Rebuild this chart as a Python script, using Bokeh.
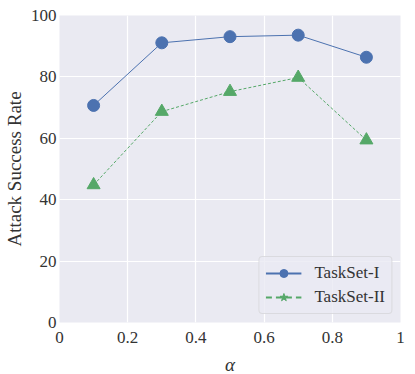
from bokeh.plotting import figure
from bokeh.models import ColumnDataSource, Legend, LegendItem, CDSView, IndexFilter
from bokeh.embed import file_html
from bokeh.resources import INLINE

alpha = [0.1, 0.3, 0.5, 0.7, 0.9]
taskset1 = [70.7, 91.1, 93.1, 93.6, 86.4]
taskset2 = [44.8, 68.7, 75.2, 79.8, 59.4]
x_ticks = [0, 0.2, 0.4, 0.6, 0.8, 1]
x_tick_labels = ["0", "0.2", "0.4", "0.6", "0.8", "1"]
y_ticks = [0, 20, 40, 60, 80, 100]

BLUE = "#4C72B0"
GREEN = "#55A868"
FONT = "Liberation Serif"
TXT = "#333333"

p = figure(frame_width=341, frame_height=307, x_range=(0, 1), y_range=(0, 100),
           output_backend="svg", toolbar_location=None,
           background_fill_color="#EAEAF2", border_fill_color="white",
           min_border_left=56, min_border_right=5, min_border_top=15, min_border_bottom=46)
p.outline_line_color = None

for ax in (p.xaxis, p.yaxis):
    ax.axis_line_color = None
    ax.major_tick_line_color = None
    ax.minor_tick_line_color = None
    ax.major_tick_out = 0
    ax.major_tick_in = 0
    ax.minor_tick_out = 0
    ax.minor_tick_in = 0
    ax.major_label_text_font = FONT
    ax.major_label_text_font_size = "17px"
    ax.major_label_text_color = TXT
    ax.axis_label_text_font = FONT
    ax.axis_label_text_font_size = "19px"
    ax.axis_label_text_font_style = "normal"
    ax.axis_label_text_color = TXT
p.xaxis.ticker = x_ticks
p.xaxis.major_label_overrides = {t: l for t, l in zip(x_ticks, x_tick_labels)}
p.yaxis.ticker = y_ticks
p.xaxis.axis_label = "α"
p.xaxis.axis_label_text_font_style = "italic"
p.yaxis.axis_label = "Attack Success Rate"
p.xaxis.major_label_standoff = 9
p.yaxis.major_label_standoff = 3
p.xaxis.axis_label_standoff = 8
p.yaxis.axis_label_standoff = 3

p.xgrid.grid_line_color = "white"
p.ygrid.grid_line_color = "white"
p.xgrid.grid_line_width = 1.2
p.ygrid.grid_line_width = 1.2

src1 = ColumnDataSource(dict(x=alpha, y=taskset1))
src2 = ColumnDataSource(dict(x=alpha, y=taskset2))

# legend-only glyphs (drawn first, hidden beneath the main markers)
lg1 = p.line("x", "y", source=src1, view=CDSView(filter=IndexFilter([0])), color=BLUE, line_width=2)
lm1 = p.scatter("x", "y", source=src1, view=CDSView(filter=IndexFilter([0])), marker="circle", size=7, color=BLUE)
lg2 = p.line("x", "y", source=src2, view=CDSView(filter=IndexFilter([0])), color=GREEN, line_width=2, line_dash="6 4")
lm2 = p.scatter("x", "y", source=src2, view=CDSView(filter=IndexFilter([0])), marker="star", size=7, color=GREEN)

l1 = p.line("x", "y", source=src1, color=BLUE, line_width=1)
s1 = p.scatter("x", "y", source=src1, marker="circle", size=12, color=BLUE)
l2 = p.line("x", "y", source=src2, color=GREEN, line_width=1, line_dash="3 2")
s2 = p.scatter("x", "y", source=src2, marker="triangle", size=13, color=GREEN)

legend = Legend(items=[LegendItem(label="TaskSet-I", renderers=[lg1, lm1]),
                       LegendItem(label="TaskSet-II", renderers=[lg2, lm2])],
                location="bottom_right")
legend.label_text_font = FONT
legend.label_text_font_size = "17px"
legend.label_text_color = TXT
legend.background_fill_color = "#EAEAF2"
legend.background_fill_alpha = 0.8
legend.border_line_color = "#CCCCCC"
legend.border_line_width = 1
legend.border_radius = 4
legend.glyph_width = 36
legend.glyph_height = 20
legend.label_height = 20
legend.spacing = 4
legend.padding = 6
legend.margin = 8
legend.label_standoff = 13
p.add_layout(legend)

open("out.html", "w").write(file_html(p, INLINE))
